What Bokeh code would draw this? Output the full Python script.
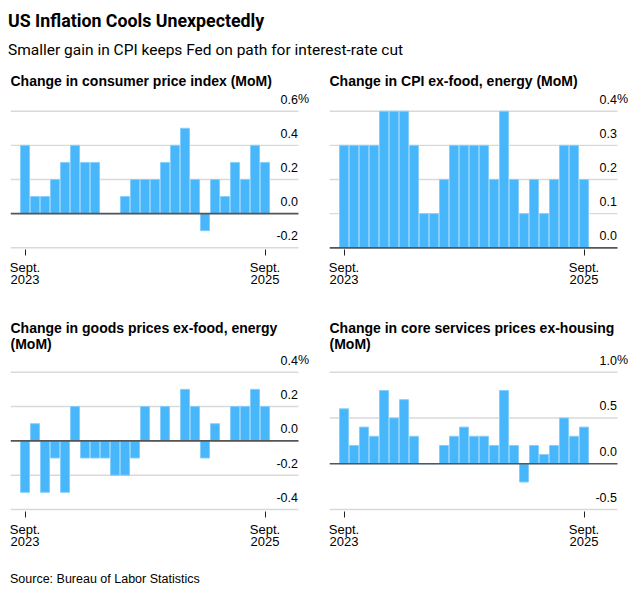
from bokeh.plotting import figure
from bokeh.models import Range1d, FixedTicker, Div, ColumnDataSource
from bokeh.layouts import column, row
from bokeh.core.properties import value
from bokeh.embed import file_html
from bokeh.resources import INLINE

# ---------------- data ----------------
months = ["2023-09", "2023-10", "2023-11", "2023-12", "2024-01", "2024-02", "2024-03",
          "2024-04", "2024-05", "2024-06", "2024-07", "2024-08", "2024-09", "2024-10",
          "2024-11", "2024-12", "2025-01", "2025-02", "2025-03", "2025-04", "2025-05",
          "2025-06", "2025-07", "2025-08", "2025-09"]

cpi = [0.4, 0.1, 0.1, 0.2, 0.3, 0.4, 0.3, 0.3, 0.0, 0.0, 0.1, 0.2, 0.2,
       0.2, 0.3, 0.4, 0.5, 0.2, -0.1, 0.2, 0.1, 0.3, 0.2, 0.4, 0.3]
core_cpi = [0.3, 0.3, 0.3, 0.3, 0.4, 0.4, 0.4, 0.3, 0.1, 0.1, 0.2, 0.3, 0.3,
            0.3, 0.3, 0.2, 0.4, 0.2, 0.1, 0.2, 0.1, 0.2, 0.3, 0.3, 0.2]
goods = [-0.3, 0.1, -0.3, -0.1, -0.3, 0.2, -0.1, -0.1, -0.1, -0.2, -0.2, -0.1, 0.2,
         0.0, 0.2, 0.0, 0.3, 0.2, -0.1, 0.1, 0.0, 0.2, 0.2, 0.3, 0.2]
services = [0.6, 0.2, 0.4, 0.3, 0.8, 0.5, 0.7, 0.3, 0.0, 0.0, 0.2, 0.3, 0.4,
            0.3, 0.3, 0.2, 0.8, 0.2, -0.2, 0.2, 0.1, 0.2, 0.5, 0.3, 0.4]

ticks_cpi = [-0.2, 0.0, 0.2, 0.4, 0.6]
labels_cpi = ["-0.2", "0.0", "0.2", "0.4", "0.6"]
ticks_core = [0.0, 0.1, 0.2, 0.3, 0.4]
labels_core = ["0.0", "0.1", "0.2", "0.3", "0.4"]
ticks_goods = [-0.4, -0.2, 0.0, 0.2, 0.4]
labels_goods = ["-0.4", "-0.2", "0.0", "0.2", "0.4"]
ticks_serv = [-0.5, 0.0, 0.5, 1.0]
labels_serv = ["-0.5", "0.0", "0.5", "1.0"]

x_tick_idx = [0, 24]
x_tick_labels = ["Sept.\n2023", "Sept.\n2025"]

title_text = "US Inflation Cools Unexpectedly"
subtitle_text = "Smaller gain in CPI keeps Fed on path for interest-rate cut"
source_text = "Source: Bureau of Labor Statistics"

# ---------------- style ----------------
BAR = "#48B6FB"
BAR_EDGE = "#86CFFC"
GRID = "#d9d9d9"
ZERO = "#555555"
FONT = "Liberation Sans"

X0, X1 = -1.45, 28.55      # frame x-range (10 px per month)
GRID_END = 27.35
LABEL_X = 27.3


def make_panel(title_lines, vals, ticks, labels, top_row, left):
    if top_row:
        frame_top, frame_bottom, g_top, g_bot, height = 0.0, 187.0, 48.7, 185.3, 238
        title_base = 18
    else:
        frame_top, frame_bottom, g_top, g_bot, height = 0.0, 211.0, 71.7, 209.0, 266
        title_base = 27
    tmin, tmax = min(ticks), max(ticks)
    s = (g_bot - g_top) / (tmax - tmin)
    y_end = tmax + (g_top - frame_top) / s
    y_start = tmin - (frame_bottom - g_bot) / s

    width = 319 if left else 302
    p = figure(width=width, height=height, title=None, toolbar_location=None,
               output_backend="svg", x_range=Range1d(X0, X1),
               y_range=Range1d(y_start, y_end), y_axis_location=None,
               min_border_left=2, min_border_right=17 if left else 0,
               min_border_top=0, min_border_bottom=int(height - frame_bottom))
    p.outline_line_color = None
    p.xgrid.visible = False
    p.ygrid.visible = False
    p.background_fill_color = "white"
    p.border_fill_color = "white"

    # gridlines
    gt = [t for t in ticks if t != 0]
    p.segment(x0=[X0] * len(gt), x1=[GRID_END] * len(gt), y0=gt, y1=gt,
              line_color=GRID, line_width=1.4)

    src = ColumnDataSource(dict(x=list(range(len(months))), top=vals, month=months))
    p.vbar(x="x", top="top", bottom=0, width=0.9, source=src,
           fill_color=BAR, line_color=BAR_EDGE, line_width=1)

    p.segment(x0=[X0], x1=[GRID_END], y0=[0], y1=[0], line_color=ZERO, line_width=1.7)

    # y labels above gridlines
    p.text(x=[LABEL_X] * len(ticks), y=ticks, text=labels, text_align="right",
           text_baseline="alphabetic", y_offset=-12, text_font=value(FONT),
           text_font_size="12.5px", text_color="#000000")
    p.text(x=[LABEL_X], y=[tmax], text=["%"], text_align="left",
           text_baseline="alphabetic", y_offset=-12, text_font=value(FONT),
           text_font_size="12.5px", text_color="#000000")

    # panel title
    for k, line in enumerate(title_lines):
        p.text(x=[X0], y=[y_end], text=[line], text_align="left",
               text_baseline="alphabetic", y_offset=title_base + 16 * k,
               text_font=value(FONT), text_font_size="14px", text_font_style="bold",
               text_color="#000000")

    ax = p.xaxis[0]
    ax.ticker = FixedTicker(ticks=x_tick_idx)
    ax.major_label_overrides = {t: l for t, l in zip(x_tick_idx, x_tick_labels)}
    ax.axis_line_color = None
    ax.major_tick_in = 0
    ax.major_tick_out = 6
    ax.major_tick_line_color = "#222222"
    ax.major_tick_line_width = 1
    ax.minor_tick_line_color = None
    ax.major_label_standoff = 4
    ax.major_label_text_font = FONT
    ax.major_label_text_font_size = "13px"
    ax.major_label_text_color = "#000000"
    ax.major_label_text_line_height = 0.85
    return p


p1 = make_panel(["Change in consumer price index (MoM)"], cpi, ticks_cpi, labels_cpi, True, True)
p2 = make_panel(["Change in CPI ex-food, energy (MoM)"], core_cpi, ticks_core, labels_core, True, False)
p3 = make_panel(["Change in goods prices ex-food, energy", "(MoM)"], goods, ticks_goods, labels_goods, False, True)
p4 = make_panel(["Change in core services prices ex-housing", "(MoM)"], services, ticks_serv, labels_serv, False, False)

title_div = Div(text=f'<div style="font-family:Roboto;font-weight:bold;font-size:17.8px;line-height:26px;color:#000;white-space:nowrap">{title_text}</div>',
                width=621, height=26, margin=(0, 0, 0, 0))
sub_div = Div(text=f'<div style="font-family:Roboto;font-size:15.5px;line-height:28px;padding-top:2px;color:#000;white-space:nowrap">{subtitle_text}</div>',
              width=621, height=28, margin=(0, 0, 0, 0))
src_div = Div(text=f'<div style="font-family:\'Liberation Sans\';font-size:12.5px;line-height:22px;padding-top:2px;color:#000;padding-left:2px;white-space:nowrap">{source_text}</div>',
              width=621, height=24, margin=(0, 0, 0, 0))

layout = column(title_div, sub_div, row(p1, p2), row(p3, p4), src_div, margin=(8, 0, 0, 8))

open("out.html", "w").write(file_html(layout, INLINE))
